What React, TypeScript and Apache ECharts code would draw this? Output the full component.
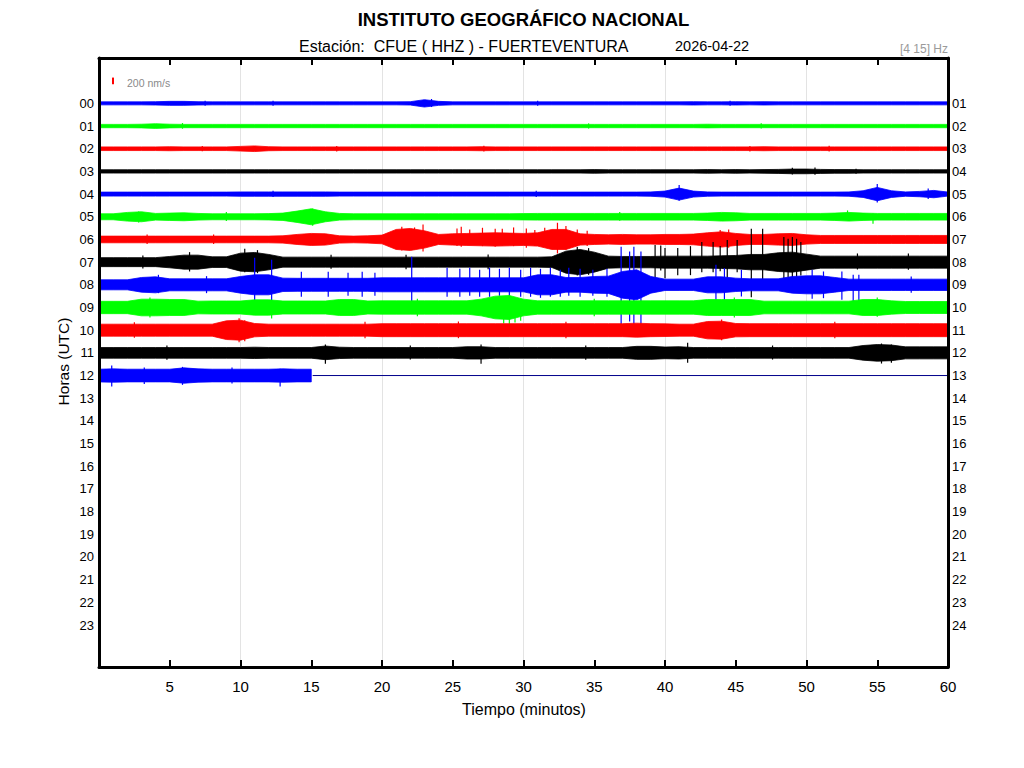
import React, { useEffect, useRef } from 'react';
import * as echarts from 'echarts';

// ---------- labels ----------
const HOURS_LEFT = ['00','01','02','03','04','05','06','07','08','09','10','11','12','13','14','15','16','17','18','19','20','21','22','23'];
const HOURS_RIGHT = ['01','02','03','04','05','06','07','08','09','10','11','12','13','14','15','16','17','18','19','20','21','22','23','24'];
const TITLE = 'INSTITUTO GEOGRÁFICO NACIONAL';
const SUBTITLE = 'Estación:  CFUE ( HHZ ) - FUERTEVENTURA';
const DATE = '2026-04-22';
const FILTER = '[4 15] Hz';
const SCALE_LABEL = '200 nm/s';
const X_NAME = 'Tiempo (minutos)';
const Y_NAME = 'Horas (UTC)';

// ---------- data: envelope half-amplitude (nm/s) at minutes 0..60 ----------
const R00 = [45,45,45,45,50, 60,60,50,45,45, 45,45,45,45,45, 45,45,45,45,45, 45,45,50,110,60, 45,45,45,45,45, 45,45,45,45,45, 45,45,45,45,45, 45,45,50,45,45, 50,45,50,45,45, 45,45,45,45,45, 45,45,45,45,45, 45];
const R01 = [50,50,50,55,70, 55,50,50,50,50, 50,50,50,50,50, 50,50,50,50,50, 50,50,50,50,50, 50,50,50,50,50, 50,50,50,50,50, 50,50,50,50,50, 50,50,50,55,50, 50,50,50,50,50, 50,50,50,50,50, 50,50,50,50,50, 50];
const R02 = [55,55,55,55,55, 60,55,55,55,55, 70,85,60,55,55, 55,55,55,55,55, 55,55,55,55,55, 55,55,60,55,55, 55,55,55,55,55, 55,55,55,55,55, 55,55,55,55,55, 55,55,60,55,55, 55,55,55,55,55, 55,55,55,55,55, 55];
const R03 = [50,50,50,50,50, 50,50,50,50,50, 50,50,50,50,50, 50,50,50,50,50, 50,50,50,50,50, 50,50,50,50,50, 50,50,50,50,50, 55,50,50,50,50, 50,50,50,55,50, 55,50,55,60,70, 70,60,55,55,50, 50,50,50,50,50, 50];
const R04 = [60,60,60,60,60, 60,60,60,60,60, 65,65,65,65,65, 65,65,60,60,60, 60,60,60,60,60, 60,60,60,60,60, 60,60,60,60,60, 60,60,60,60,65, 90,180,90,65,60, 60,60,60,60,60, 60,60,60,65,100, 200,100,65,80,110, 60];
const R05 = [90,90,130,150,100, 110,120,100,90,90, 90,90,95,110,170, 240,150,100,90,90, 90,90,90,90,90, 90,90,90,90,90, 95,100,100,100,100, 100,100,100,100,100, 100,100,100,110,130, 120,100,100,100,100, 100,100,110,130,110, 100,100,100,100,100, 100];
const R06 = [100,100,100,100,100, 100,100,100,100,100, 100,100,100,110,150, 180,170,110,100,110, 130,300,330,260,150, 170,180,190,200,190, 180,200,300,300,170, 150,140,150,140,140, 150,150,160,200,230, 180,150,150,170,180, 140,120,120,120,120, 120,120,120,120,120, 120];
const R07 = [135,135,135,135,135, 170,210,210,160,160, 270,290,230,150,150, 150,150,150,150,150, 150,150,150,150,150, 150,150,150,150,150, 150,150,160,330,380, 300,180,170,170,170, 180,180,180,180,190, 200,230,230,280,300, 240,180,180,180,180, 180,180,180,180,180, 180];
const R08 = [150,150,150,220,240, 180,180,180,180,180, 250,300,300,200,195, 195,195,195,195,195, 210,210,210,210,210, 210,210,210,210,210, 210,300,300,220,220, 250,260,400,450,250, 170,170,170,240,240, 200,180,180,180,250, 270,270,220,170,170, 170,170,170,170,170, 170];
const R09 = [185,185,185,250,250, 240,240,190,195,195, 195,230,230,195,195, 195,195,240,240,195, 200,200,200,200,200, 200,200,250,340,360, 250,200,200,200,200, 200,200,200,200,200, 200,200,200,240,240, 240,240,190,190,190, 190,190,190,190,240, 240,200,180,180,180, 180];
const R10 = [180,180,180,180,180, 180,180,180,180,280, 300,200,180,180,180, 180,180,180,180,180, 195,195,195,195,195, 195,195,195,195,195, 195,195,195,195,195, 195,195,195,210,195, 190,180,180,260,270, 200,195,195,195,195, 195,195,195,195,195, 195,195,195,195,195, 195];
const R11 = [160,160,160,160,160, 160,160,160,160,160, 160,170,160,160,160, 160,205,170,160,160, 160,160,160,160,160, 160,185,185,160,160, 160,160,160,160,160, 160,160,160,195,195, 175,185,160,160,160, 160,160,160,160,160, 160,160,160,160,220, 250,235,180,180,180, 180];
const R12 = [190,200,190,190,190, 190,230,200,190,190, 190,190,190,200,190, 190];
const ENVELOPES = [R00, R01, R02, R03, R04, R05, R06, R07, R08, R09, R10, R11, R12];
const ROW_END = [60, 60, 60, 60, 60, 60, 60, 60, 60, 60, 60, 60, 15.1];

// spikes: [row, minute, up (nm/s), down (nm/s)]
const SPIKES = [
  [0, 23.5, 130, 110], [0, 7.5, 80, 70], [0, 12.3, 75, 70], [0, 31.0, 75, 70], [0, 44.6, 80, 70],
  [1, 5.9, 90, 80], [1, 34.6, 80, 75], [1, 46.8, 85, 70],
  [2, 7.3, 85, 75], [2, 16.8, 85, 80], [2, 27.2, 90, 80], [2, 46.0, 85, 80], [2, 51.6, 90, 80],
  [3, 49.0, 110, 90], [3, 50.6, 120, 100], [3, 53.5, 80, 70],
  [4, 41.0, 270, 200], [4, 55.0, 300, 250], [4, 58.6, 170, 150], [4, 12.3, 100, 90], [4, 30.9, 100, 90],
  [5, 2.8, 160, 170], [5, 15.1, 250, 270], [5, 52.9, 190, 100], [5, 54.7, 100, 210], [5, 9.0, 140, 130], [5, 36.8, 140, 120],
  [6, 21.4, 380, 330], [6, 22.3, 360, 300], [6, 22.9, 450, 360], [6, 25.3, 330, 200], [6, 25.6, 380, 220], [6, 26.2, 300, 150],
  [6, 27.1, 350, 200], [6, 28.0, 320, 220], [6, 28.5, 320, 180], [6, 29.3, 360, 200], [6, 30.2, 330, 250],
  [6, 30.8, 280, 200], [6, 31.5, 350, 220], [6, 32.4, 500, 420], [6, 33.0, 400, 300], [6, 33.8, 300, 200],
  [6, 34.5, 260, 200], [6, 43.9, 280, 200], [6, 44.5, 300, 250], [6, 3.4, 150, 140], [6, 8.1, 150, 140],
  [7, 10.3, 400, 300], [7, 11.2, 360, 330], [7, 6.4, 300, 280], [7, 33.8, 450, 400], [7, 34.6, 420, 380], [7, 39.3, 510, 540],
  [7, 39.7, 500, 250], [7, 40.0, 420, 480], [7, 40.9, 420, 390], [7, 41.8, 480, 390], [7, 42.6, 600, 300],
  [7, 43.4, 600, 300], [7, 43.9, 480, 270], [7, 44.4, 660, 690], [7, 45.1, 660, 300], [7, 46.1, 1000, 1050],
  [7, 46.9, 1000, 800], [7, 48.4, 750, 540], [7, 48.7, 700, 500], [7, 49.0, 750, 540], [7, 49.3, 700, 450],
  [7, 49.6, 600, 400], [7, 3.1, 200, 190], [7, 16.4, 220, 200], [7, 21.7, 220, 210], [7, 27.5, 230, 210],
  [7, 53.6, 260, 220], [7, 57.2, 260, 230],
  [8, 4.2, 300, 250], [8, 11.0, 810, 600], [8, 12.2, 750, 900], [8, 14.3, 390, 360], [8, 16.2, 390, 360],
  [8, 17.6, 360, 330], [8, 18.6, 390, 360], [8, 19.5, 360, 330], [8, 22.1, 840, 540], [8, 24.6, 510, 360],
  [8, 25.5, 480, 360], [8, 26.2, 510, 330], [8, 26.9, 450, 360], [8, 27.6, 510, 360], [8, 28.3, 480, 330],
  [8, 29.0, 510, 360], [8, 29.8, 450, 360], [8, 30.5, 510, 360], [8, 31.2, 480, 390], [8, 31.9, 510, 360],
  [8, 32.6, 450, 360], [8, 33.2, 510, 330], [8, 34.0, 480, 360], [8, 34.9, 450, 330], [8, 35.9, 480, 360],
  [8, 36.9, 1140, 1200], [8, 37.5, 1000, 1100], [8, 37.8, 1140, 1200], [8, 38.3, 1000, 1200],
  [8, 43.6, 600, 510], [8, 44.2, 500, 450], [8, 45.4, 450, 350], [8, 50.4, 450, 420], [8, 51.2, 400, 400],
  [8, 52.5, 400, 450], [8, 53.3, 300, 500], [8, 53.7, 300, 500], [8, 7.6, 260, 250], [8, 57.4, 250, 240],
  [9, 12.2, 200, 330], [9, 28.6, 300, 480], [9, 29.0, 360, 540], [9, 29.4, 300, 450], [9, 29.8, 250, 400],
  [9, 3.6, 300, 300], [9, 22.5, 260, 260], [9, 35.0, 260, 260], [9, 44.9, 300, 300], [9, 55.0, 300, 280],
  [10, 9.9, 360, 360], [10, 10.3, 300, 330], [10, 44.0, 320, 300], [10, 2.5, 240, 230], [10, 18.8, 250, 240],
  [10, 25.4, 260, 240], [10, 33.0, 250, 240], [10, 52.0, 250, 240],
  [11, 16.0, 250, 330], [11, 27.0, 250, 330], [11, 41.6, 300, 300], [11, 55.3, 280, 320], [11, 56.0, 250, 300],
  [11, 4.8, 220, 210], [11, 22.0, 220, 200], [11, 34.4, 220, 210], [11, 47.6, 220, 200],
  [12, 0.9, 300, 330], [12, 5.9, 260, 280], [12, 12.8, 200, 330], [12, 3.2, 240, 250], [12, 9.4, 240, 240],
];

const NM_PER_ROW = 680; // nm/s per row spacing (from 200 nm/s scale bar)
const SCALE_BAR = { minute: 0.99, row: -0.99, nm: 200 };
const ROW12_TAIL = [[15.1, 12], [60, 12]];
const COLORS = ['#0000ff', '#00ff00', '#ff0000', '#000000'];

const FONT = '"Liberation Sans", Arial, Helvetica, sans-serif';

function isInt(v: number) {
  return Math.abs(v - Math.round(v)) < 1e-6;
}

export default function App() {
  const ref = useRef<HTMLDivElement>(null);

  useEffect(() => {
    if (!ref.current) return;
    const chart = echarts.init(ref.current, undefined, { renderer: 'svg' });

    const axisLineStyle = { show: true, onZero: false, lineStyle: { color: '#000', width: 3 } };
    const tickStyle = { show: true, inside: true, length: 7, lineStyle: { color: '#000', width: 2 } };

    const option: any = {
      animation: false,
      backgroundColor: '#fff',
      grid: { left: 99, right: 76, top: 58, bottom: 101, containLabel: false },
      xAxis: [
        {
          type: 'value', position: 'bottom', min: 0, max: 60, interval: 5,
          axisLine: axisLineStyle,
          axisTick: tickStyle,
          axisLabel: {
            formatter: (v: number) => (v === 0 ? '' : String(v)),
            fontSize: 15, color: '#000', margin: 12, fontFamily: FONT,
          },
          splitLine: { show: false },
          z: 5,
        },
        {
          type: 'value', position: 'top', min: 0, max: 60, interval: 5,
          axisLine: axisLineStyle,
          axisTick: tickStyle,
          axisLabel: { show: false },
          splitLine: { show: false },
          z: 5,
        },
        {
          type: 'value', position: 'bottom', min: 0, max: 60, interval: 10,
          axisLine: { show: false, onZero: false }, axisTick: { show: false }, axisLabel: { show: false },
          splitLine: { show: true, lineStyle: { color: '#e3e3e3', width: 1 } },
        },
      ],
      yAxis: [
        {
          type: 'value', position: 'left', inverse: true, min: -2, max: 24.85, interval: 1,
          axisLine: axisLineStyle, axisTick: { show: false }, splitLine: { show: false },
          axisLabel: {
            formatter: (v: number) => (isInt(v) && v >= 0 && v <= 23 ? HOURS_LEFT[Math.round(v)] : ''),
            fontSize: 13, color: '#000', margin: 5, fontFamily: FONT,
          },
          z: 5,
        },
        {
          type: 'value', position: 'right', inverse: true, min: -2, max: 24.85, interval: 1,
          axisLine: axisLineStyle, axisTick: { show: false }, splitLine: { show: false },
          axisLabel: {
            formatter: (v: number) => (isInt(v) && v >= 0 && v <= 23 ? HOURS_RIGHT[Math.round(v)] : ''),
            fontSize: 13, color: '#000', margin: 4, fontFamily: FONT,
          },
          z: 5,
        },
      ],
      graphic: [
        { type: 'text', x: 523.5, y: 19, style: { text: TITLE, font: `bold 18.5px ${FONT}`, fill: '#000', textAlign: 'center', textVerticalAlign: 'middle' } },
        { type: 'text', x: 299, y: 46, style: { text: SUBTITLE, font: `16px ${FONT}`, fill: '#000', textAlign: 'left', textVerticalAlign: 'middle' } },
        { type: 'text', x: 675, y: 46, style: { text: DATE, font: `14.5px ${FONT}`, fill: '#000', textAlign: 'left', textVerticalAlign: 'middle' } },
        { type: 'text', x: 948, y: 49, style: { text: FILTER, font: `12px ${FONT}`, fill: '#9a9a9a', textAlign: 'right', textVerticalAlign: 'middle' } },
        { type: 'text', x: 127, y: 82.5, style: { text: SCALE_LABEL, font: `10.5px ${FONT}`, fill: '#8a8a8a', textAlign: 'left', textVerticalAlign: 'middle' } },
        { type: 'text', x: 524, y: 709, style: { text: X_NAME, font: `16px ${FONT}`, fill: '#000', textAlign: 'center', textVerticalAlign: 'middle' } },
        { type: 'text', x: 63, y: 361.5, rotation: Math.PI / 2, style: { text: Y_NAME, font: `15.5px ${FONT}`, fill: '#000', textAlign: 'center', textVerticalAlign: 'middle' } },
      ],
      series: [
        {
          type: 'custom',
          name: 'traces',
          xAxisIndex: 0, yAxisIndex: 0,
          clip: false,
          data: ENVELOPES.map((_, row) => [0, row]),
          renderItem: (_params: any, api: any) => {
            const row = api.value(1) as number;
            const env = ENVELOPES[row];
            const end = ROW_END[row];
            const color = COLORS[row % 4];
            const top: number[][] = [];
            const bot: number[][] = [];
            env.forEach((a, i) => {
              const t = Math.min(i, end);
              top.push(api.coord([t, row - a / NM_PER_ROW]));
              bot.push(api.coord([t, row + a / NM_PER_ROW]));
            });
            const children: any[] = [
              { type: 'polygon', shape: { points: top.concat(bot.reverse()) }, style: { fill: color, stroke: color, lineWidth: 0.8 } },
            ];
            SPIKES.filter((s) => s[0] === row).forEach((s) => {
              const p1 = api.coord([s[1], row - s[2] / NM_PER_ROW]);
              const p2 = api.coord([s[1], row + s[3] / NM_PER_ROW]);
              children.push({ type: 'line', shape: { x1: p1[0], y1: p1[1], x2: p2[0], y2: p2[1] }, style: { stroke: color, lineWidth: 1.2 } });
            });
            return { type: 'group', children };
          },
          z: 3,
        },
        {
          type: 'line', name: 'tail', xAxisIndex: 0, yAxisIndex: 0,
          data: ROW12_TAIL, symbol: 'none', lineStyle: { color: '#00008b', width: 1 }, z: 2,
        },
        {
          type: 'line', name: 'scale', xAxisIndex: 0, yAxisIndex: 0,
          data: [
            [SCALE_BAR.minute, SCALE_BAR.row - SCALE_BAR.nm / 2 / NM_PER_ROW],
            [SCALE_BAR.minute, SCALE_BAR.row + SCALE_BAR.nm / 2 / NM_PER_ROW],
          ],
          symbol: 'none', lineStyle: { color: '#ff0000', width: 2 }, z: 3,
        },
      ],
    };

    chart.setOption(option);
    return () => chart.dispose();
  }, []);

  return <div ref={ref} style={{ position: 'absolute', left: 0, top: 0, width: 1024, height: 768, background: '#fff' }} />;
}
